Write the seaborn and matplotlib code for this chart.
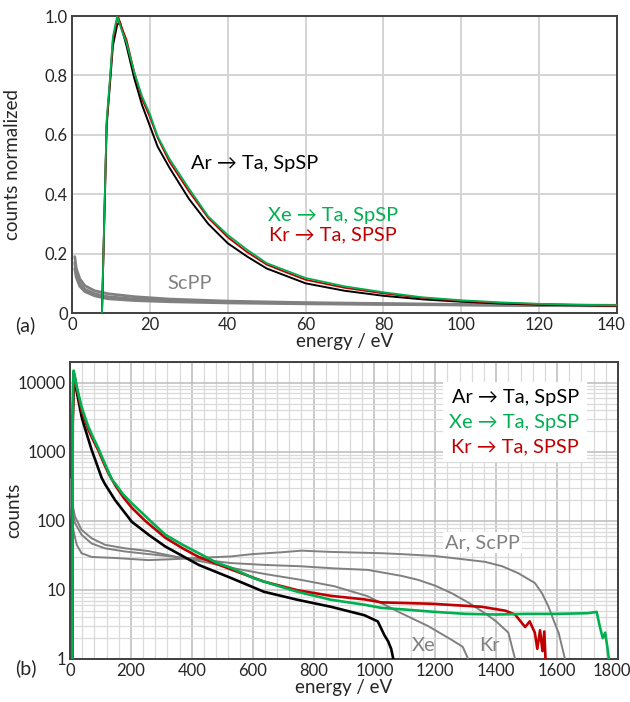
import numpy as np
import pandas as pd
import matplotlib
matplotlib.use("Agg")
import matplotlib.pyplot as plt
import matplotlib.transforms as mtransforms
from matplotlib.ticker import MultipleLocator, FuncFormatter, LogLocator, FixedLocator
from matplotlib.patches import Rectangle
import seaborn as sns

# ---------------- data: panel (a), normalized counts ----------------
xe_top_e = [7.7, 8.9, 9.8, 10.5, 11.6, 12.8, 14, 16, 18, 20, 22, 25, 30, 35, 40, 45, 50, 55, 60,
            70, 80, 90, 100, 110, 120, 130, 140]
xe_top_v = [0.0, 0.65, 0.80, 0.93, 1.00, 0.95, 0.91, 0.81, 0.73, 0.67, 0.595, 0.52, 0.42, 0.325,
            0.263, 0.213, 0.168, 0.143, 0.118, 0.09, 0.07, 0.053, 0.043, 0.036, 0.031, 0.028, 0.026]
kr_top_e = [7.7, 8.9, 9.8, 10.5, 11.8, 12.8, 14, 16, 18, 20, 22, 25, 30, 35, 40, 45, 50, 55, 60,
            70, 80, 90, 100, 110, 120, 130, 140]
kr_top_v = [0.0, 0.64, 0.79, 0.92, 1.00, 0.96, 0.92, 0.81, 0.72, 0.66, 0.59, 0.51, 0.41, 0.32,
            0.255, 0.205, 0.163, 0.137, 0.112, 0.085, 0.066, 0.051, 0.041, 0.034, 0.030, 0.027, 0.025]
ar_top_e = [7.7, 8.9, 9.8, 10.5, 11.6, 12.3, 14, 16, 18, 20, 22, 25, 30, 35, 40, 45, 50, 55, 60,
            70, 80, 90, 100, 110, 120, 130, 140]
ar_top_v = [0.0, 0.63, 0.78, 0.90, 0.97, 0.98, 0.90, 0.79, 0.70, 0.63, 0.56, 0.49, 0.385, 0.30,
            0.235, 0.19, 0.15, 0.125, 0.10, 0.075, 0.058, 0.046, 0.038, 0.032, 0.028, 0.026, 0.024]
scpp_top_e = [0.7, 1.1, 2.0, 3.3, 5.8, 9.2, 16, 25, 40, 60, 80, 100, 120, 140]
scpp_a_v = [0.19, 0.15, 0.115, 0.092, 0.075, 0.065, 0.055, 0.047, 0.040, 0.035, 0.032, 0.029, 0.027, 0.026]
scpp_b_v = [0.17, 0.13, 0.100, 0.080, 0.065, 0.055, 0.047, 0.042, 0.037, 0.033, 0.030, 0.028, 0.026, 0.025]
scpp_c_v = [0.15, 0.12, 0.090, 0.072, 0.058, 0.048, 0.042, 0.038, 0.034, 0.031, 0.029, 0.027, 0.025, 0.024]

# ---------------- data: panel (b), counts ----------------
xe_e = [8, 9, 10, 12, 15, 22, 30, 38, 50, 60, 77, 93, 110, 126, 137, 150, 175, 203, 264, 313, 370,
        423, 480, 533, 600, 637, 747, 857, 967, 1022, 1100, 1200, 1300, 1400, 1500, 1600, 1700,
        1730, 1740, 1750, 1758, 1765, 1770]
xe_v = [1, 3000, 9000, 15000, 13000, 8900, 6300, 4500, 3100, 2330, 1580, 1130, 750, 520, 400, 340,
        240, 180, 100, 63, 45, 34, 25, 20.6, 15, 13.2, 9.4, 7.2, 6.1, 5.5, 5.2, 4.8, 4.5, 4.4, 4.5,
        4.5, 4.6, 4.8, 3, 2, 2.4, 1.5, 1]
kr_e = [8, 9, 12, 15, 22, 30, 38, 50, 60, 77, 93, 110, 126, 150, 175, 203, 247, 313, 370, 423, 533,
        637, 747, 857, 967, 1022, 1187, 1352, 1430, 1462, 1495, 1510, 1527, 1535, 1544, 1552, 1558,
        1562]
kr_v = [1, 2500, 14000, 12500, 8300, 5800, 4000, 2800, 2100, 1450, 1050, 700, 490, 320, 220, 155,
        100, 57, 40, 30, 19.5, 13.2, 9.9, 8.2, 7.3, 6.6, 6.3, 5.7, 5.0, 4.4, 2.9, 3.5, 2.4, 1.4,
        2.6, 1.3, 2.5, 1]
ar_e = [8, 9, 13, 22, 38, 44, 71, 104, 115, 148, 203, 258, 313, 423, 527, 637, 747, 857, 967, 1011,
        1033, 1045, 1055, 1062]
ar_v = [1, 3000, 13000, 7450, 3250, 2600, 1070, 420, 340, 200, 97, 63, 42.5, 23, 15, 9.4, 7.2, 5.7,
        4.3, 3.5, 2.2, 1.8, 1.4, 1]
xe_scpp_e = [1, 5.5, 16.5, 38, 71, 115, 181, 258, 350, 450, 527, 640, 758, 868, 978, 1088, 1176,
             1253, 1290, 1308]
xe_scpp_v = [400, 200, 115, 74, 56, 45, 40, 36.5, 30, 25, 21, 17, 14, 11.3, 8.1, 4.6, 3, 1.9, 1.5, 1]
kr_scpp_e = [1, 5.5, 16.5, 38, 71, 115, 181, 258, 350, 450, 527, 640, 758, 868, 978, 1088, 1143,
             1200, 1253, 1310, 1363, 1400, 1440, 1462]
kr_scpp_v = [300, 160, 93, 63, 47, 40, 36, 33, 30, 27, 24.5, 23, 22, 20.5, 19.5, 16, 14, 11.5, 9,
             6.5, 4.6, 3.5, 2.4, 1]
ar_scpp_e = [1, 5.5, 11, 22, 38, 71, 148, 258, 350, 450, 527, 600, 692, 760, 857, 1022, 1088, 1197,
             1300, 1363, 1420, 1473, 1527, 1550, 1572, 1590, 1605, 1626]
ar_scpp_v = [250, 110, 74, 45, 34, 30, 29, 27, 28, 29.5, 30.5, 33, 35, 37, 35.5, 34, 33, 31, 27.5,
             25.5, 22, 17.4, 12.6, 9, 5.7, 3.5, 2.4, 1]

top_xticks = [0, 20, 40, 60, 80, 100, 120, 140]
top_yticks = [0, 0.2, 0.4, 0.6, 0.8, 1.0]
bot_xticks = [0, 200, 400, 600, 800, 1000, 1200, 1400, 1600, 1800]
bot_yticks = [1, 10, 100, 1000, 10000]

GREEN = "#00b050"
RED = "#c00000"
BLACK = "#000000"
GRAY = "#808080"
TXT = "#262626"
FAM = ["Lato", "DejaVu Sans"]

sns.set_theme(style="white")
plt.rcParams["font.family"] = FAM

fig = plt.figure(figsize=(6.3, 7.02), dpi=100)
ax1 = fig.add_axes([0.1143, 0.5541, 0.8651, 0.4231])
ax2 = fig.add_axes([0.1111, 0.0613, 0.8698, 0.4231])


def line(ax, x, y, color, lw, z):
    sns.lineplot(x=x, y=y, ax=ax, color=color, lw=lw, estimator=None, sort=False,
                 zorder=z, legend=False)


# ---- panel (a)
for v in (scpp_a_v, scpp_b_v, scpp_c_v):
    line(ax1, scpp_top_e, v, GRAY, 2.0, 3)
line(ax1, ar_top_e, ar_top_v, BLACK, 1.4, 4)
line(ax1, kr_top_e, kr_top_v, RED, 1.3, 5)
line(ax1, xe_top_e, xe_top_v, GREEN, 1.3, 6)

ax1.set_xlim(0, 140)
ax1.set_ylim(0, 1.0)
ax1.xaxis.set_major_locator(FixedLocator(top_xticks))
ax1.yaxis.set_major_locator(FixedLocator(top_yticks))
ax1.yaxis.set_major_formatter(FuncFormatter(lambda v, p: "0" if abs(v) < 1e-9 else f"{v:.1f}"))
ax1.grid(True, which="major", color="#d4d4d4", lw=1.4, zorder=0)
ax1.set_axisbelow(True)
ax1.set_xlabel("energy / eV", fontsize=13.5, color=TXT, labelpad=0)
ax1.set_ylabel("counts normalized", fontsize=13.5, color=TXT)
ax1.yaxis.set_label_coords(-0.093, 0.5)

ax1.text(47, 0.505, "Ar → Ta, SpSP", color=BLACK, fontsize=14.4, ha="center", va="center",
         family=FAM, zorder=7)
ax1.text(67, 0.33, "Xe → Ta, SpSP", color=GREEN, fontsize=14.4, ha="center", va="center",
         family=FAM, zorder=7)
ax1.text(67, 0.263, "Kr → Ta, SPSP", color=RED, fontsize=14.4, ha="center", va="center",
         family=FAM, zorder=7)
ax1.text(30.2, 0.10, "ScPP", color=GRAY, fontsize=14.4, ha="center", va="center", zorder=7)

# ---- panel (b)
ax2.set_yscale("log")
line(ax2, xe_scpp_e, xe_scpp_v, GRAY, 1.4, 3)
line(ax2, kr_scpp_e, kr_scpp_v, GRAY, 1.4, 3)
line(ax2, ar_scpp_e, ar_scpp_v, GRAY, 1.4, 3)
line(ax2, ar_e, ar_v, BLACK, 1.9, 4)
line(ax2, kr_e, kr_v, RED, 1.9, 5)
line(ax2, xe_e, xe_v, GREEN, 1.9, 6)

ax2.set_xlim(0, 1800)
ax2.set_ylim(1, 20000)
ax2.xaxis.set_major_locator(FixedLocator(bot_xticks))
ax2.xaxis.set_minor_locator(MultipleLocator(40))
ax2.yaxis.set_major_locator(FixedLocator(bot_yticks))
ax2.yaxis.set_minor_locator(LogLocator(base=10, subs=np.arange(2, 10), numticks=20))
ax2.yaxis.set_major_formatter(FuncFormatter(lambda v, p: f"{v:.0f}"))
ax2.grid(True, which="major", color="#bcbcbc", lw=1.1, zorder=0)
ax2.grid(True, which="minor", color="#dadada", lw=0.9, zorder=0)
ax2.set_axisbelow(True)
ax2.set_xlabel("energy / eV", fontsize=13.5, color=TXT, labelpad=0)
ax2.set_ylabel("counts", fontsize=13.5, color=TXT)
ax2.yaxis.set_label_coords(-0.088, 0.5)

ax2.add_patch(Rectangle((0.681, 0.663), 0.262, 0.270, transform=ax2.transAxes,
                        facecolor="white", edgecolor="none", zorder=2))
for txt, col, yf in (("Ar → Ta, SpSP", BLACK, 0.879), ("Xe → Ta, SpSP", GREEN, 0.795),
                     ("Kr → Ta, SPSP", RED, 0.714)):
    ax2.text(0.929, yf, txt, color=col, fontsize=14.4, ha="right", va="center",
             transform=ax2.transAxes, family=FAM, zorder=7)
ax2.text(0.752, 0.391, "Ar, ScPP", color=GRAY, fontsize=14.4, ha="center", va="center",
         transform=ax2.transAxes, zorder=7,
         bbox=dict(facecolor="white", edgecolor="none", pad=1.5))
ax2.text(0.646, 0.047, "Xe", color=GRAY, fontsize=14.4, ha="center", va="center",
         transform=ax2.transAxes, zorder=7)
ax2.text(0.766, 0.047, "Kr", color=GRAY, fontsize=14.4, ha="center", va="center",
         transform=ax2.transAxes, zorder=7)

for ax in (ax1, ax2):
    for s in ax.spines.values():
        s.set_color("#404040")
        s.set_linewidth(1.4)
        s.set_visible(True)
    ax.tick_params(axis="both", which="both", length=0, labelsize=12, labelcolor=TXT, pad=3)

fig.text(15 / 630, 1 - 325 / 702, "(a)", fontsize=14, color=TXT, ha="left", va="center")
fig.text(15 / 630, 1 - 668 / 702, "(b)", fontsize=14, color=TXT, ha="left", va="center")

# keep the right-most tick labels inside the figure edge
fig.canvas.draw()
shift = mtransforms.ScaledTranslation(-6 / 100, 0, fig.dpi_scale_trans)
for ax in (ax1, ax2):
    tk = ax.xaxis.get_major_ticks()[-1]
    tk.label1.set_transform(tk.label1.get_transform() + shift)

fig.savefig("out.png", dpi=100, facecolor="white")
